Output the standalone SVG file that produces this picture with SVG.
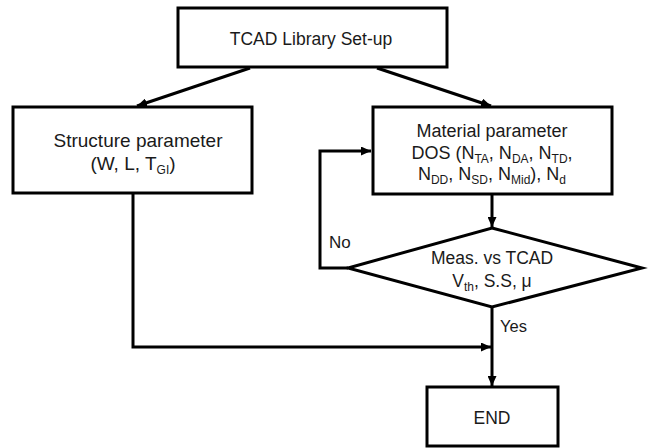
<svg xmlns="http://www.w3.org/2000/svg" width="651" height="448" viewBox="0 0 651 448">
  <style>
    .box { fill: #ffffff; stroke: #000000; stroke-width: 3; }
    .wire { fill: none; stroke: #000000; stroke-width: 3; }
    text { font-family: "Liberation Sans", Arial, sans-serif; fill: #1a1a1a; text-anchor: middle; }
    .lbl { text-anchor: start; }
    .sub { font-size: 12px; }
  </style>
  <defs>
    <marker id="arrow" markerUnits="userSpaceOnUse" markerWidth="11" markerHeight="9" refX="10" refY="4.5" orient="auto">
      <path d="M0,0 L10,4.5 L0,9 Z" fill="#000000"/>
    </marker>
  </defs>

  <rect width="651" height="448" fill="#ffffff"/>

  <!-- connectors -->
  <g id="connectors">
    <line class="wire" x1="250" y1="68" x2="137" y2="106" marker-end="url(#arrow)"/>
    <line class="wire" x1="377" y1="68" x2="491" y2="106" marker-end="url(#arrow)"/>
    <line class="wire" x1="492" y1="194" x2="492" y2="227" marker-end="url(#arrow)"/>
    <polyline class="wire" points="348,268 320,268 320,151 371,151" marker-end="url(#arrow)"/>
    <polyline class="wire" points="133,193 133,347 491,347" marker-end="url(#arrow)"/>
    <line class="wire" x1="492" y1="307" x2="492" y2="386" marker-end="url(#arrow)"/>
    <text class="lbl" x="329" y="248" font-size="17">No</text>
    <text class="lbl" x="500" y="332" font-size="16.5">Yes</text>
  </g>

  <g id="start">
    <rect class="box" x="178" y="8" width="269" height="59"/>
    <text x="311" y="45" font-size="17.5">TCAD Library Set-up</text>
  </g>

  <g id="structure">
    <rect class="box" x="13" y="107" width="239" height="86"/>
    <text x="138" y="147" font-size="19">Structure parameter</text>
    <text x="133" y="170" font-size="19">(W, L, T<tspan class="sub" dy="4">GI</tspan><tspan dy="-4">)</tspan></text>
  </g>

  <g id="material">
    <rect class="box" x="373" y="107" width="239" height="87"/>
    <text x="492" y="137" font-size="18">Material parameter</text>
    <text x="492" y="159" font-size="18">DOS (N<tspan class="sub" dy="4">TA</tspan><tspan dy="-4">, N</tspan><tspan class="sub" dy="4">DA</tspan><tspan dy="-4">, N</tspan><tspan class="sub" dy="4">TD</tspan><tspan dy="-4">,</tspan></text>
    <text x="492" y="180" font-size="18">N<tspan class="sub" dy="4">DD</tspan><tspan dy="-4">, N</tspan><tspan class="sub" dy="4">SD</tspan><tspan dy="-4">, N</tspan><tspan class="sub" dy="4">Mid</tspan><tspan dy="-4">), N</tspan><tspan class="sub" dy="4">d</tspan></text>
  </g>

  <g id="decision">
    <polygon class="box" points="492,228 642,268 492,307 348,268"/>
    <text x="492" y="264" font-size="17.5">Meas. vs TCAD</text>
    <text x="492" y="287" font-size="17.5">V<tspan class="sub" dy="4">th</tspan><tspan dy="-4">, S.S, μ</tspan></text>
  </g>

  <g id="end">
    <rect class="box" x="427" y="387" width="131" height="59"/>
    <text x="492" y="424" font-size="17.5">END</text>
  </g>
</svg>
